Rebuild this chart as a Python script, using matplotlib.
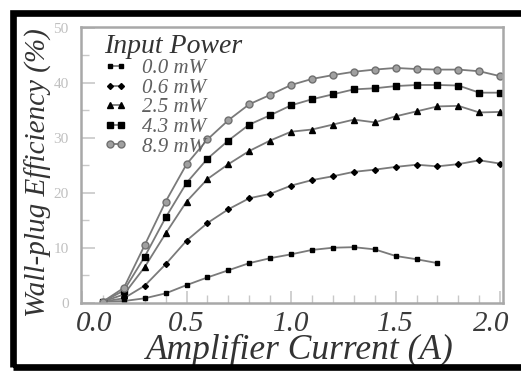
import matplotlib
matplotlib.use("Agg")
import matplotlib.pyplot as plt
from matplotlib.patches import Rectangle
from matplotlib.ticker import MultipleLocator
from matplotlib.transforms import ScaledTranslation, blended_transform_factory

# amplifier current (A)
current = [0.1, 0.2, 0.3, 0.4, 0.5, 0.6, 0.7, 0.8, 0.9, 1.0,
           1.1, 1.2, 1.3, 1.4, 1.5, 1.6, 1.7, 1.8, 1.9, 2.0]

# wall-plug efficiency (%) per input power
eff_00 = [0.2, 0.3, 0.8, 1.7, 3.2, 4.6, 5.9, 7.2, 8.1, 8.8,
          9.6, 10.0, 10.1, 9.7, 8.5, 7.9, 7.2]
eff_06 = [0.2, 0.8, 3.1, 7.0, 11.3, 14.5, 17.0, 19.0, 19.8, 21.3,
          22.3, 23.0, 23.8, 24.2, 24.7, 25.1, 24.8, 25.2, 25.9, 25.3]
eff_25 = [0.2, 1.5, 6.5, 12.6, 18.4, 22.5, 25.2, 27.6, 29.5, 31.1,
          31.5, 32.4, 33.3, 32.8, 33.9, 34.8, 35.7, 35.8, 34.6, 34.7]
eff_43 = [0.2, 2.2, 8.4, 15.5, 21.8, 26.2, 29.5, 32.4, 34.1, 35.9,
          37.0, 37.9, 38.8, 39.0, 39.4, 39.6, 39.6, 39.5, 38.2, 38.2]
eff_89 = [0.2, 2.7, 10.5, 18.4, 25.2, 29.7, 33.2, 36.1, 37.8, 39.6,
          40.7, 41.4, 42.0, 42.4, 42.7, 42.5, 42.4, 42.4, 42.1, 41.2]

labels = ["0.0 mW", "0.6 mW", "2.5 mW", "4.3 mW", "8.9 mW"]
xticks = [0.0, 0.5, 1.0, 1.5, 2.0]
yticks = [0, 10, 20, 30, 40, 50]

SERIF = "Liberation Serif"
LINE = "#7a7a7a"

fig = plt.figure(figsize=(5.21, 3.77), dpi=100)
fig.patch.set_facecolor("white")

# thick black frame around the whole picture
fig.patches.append(Rectangle((13.3 / 521, 10 / 377), (521 - 13.3 + 10) / 521, (364 - 10) / 377,
                             transform=fig.transFigure, fill=False,
                             edgecolor="black", linewidth=4.8, zorder=10))

ax = fig.add_axes([81 / 521, (377 - 302.7) / 377, (502.7 - 81) / 521, (302.7 - 26.7) / 377])

styles = [
    dict(marker="s", ms=3.5, mfc="black", mec="black"),
    dict(marker="D", ms=3.0, mfc="black", mec="black"),
    dict(marker="^", ms=3.8, mfc="black", mec="black"),
    dict(marker="s", ms=4.5, mfc="black", mec="black"),
    dict(marker="o", ms=5.0, mfc="#a0a0a0", mec="#707070", mew=1.0),
]
series = [eff_00, eff_06, eff_25, eff_43, eff_89]
for ys, lab, st in zip(series, labels, styles):
    ax.plot(current[:len(ys)], ys, color=LINE, lw=1.3, label=lab, **st)

ax.set_xlim(-0.005, 2.012)
ax.set_ylim(0, 50.2)

ax.set_xticks(xticks)
ax.set_xticklabels([])
ax.xaxis.set_minor_locator(MultipleLocator(0.1))
ax.set_yticks(yticks)
ax.set_yticklabels([str(v) for v in yticks], fontfamily=SERIF, fontsize=11, color="#c0c0c0")
ax.yaxis.set_minor_locator(MultipleLocator(5))

# x tick labels drawn by hand: the end ones sit a little inside the axis
xshift = {0.0: 12, 2.0: -9}
base = blended_transform_factory(ax.transData, ax.transAxes)
for v in xticks:
    tr = base + ScaledTranslation(xshift.get(v, 0) / 100, 0, fig.dpi_scale_trans)
    ax.text(v, -0.103, f"{v:.1f}", transform=tr, ha="center", va="baseline",
            fontfamily=SERIF, fontstyle="italic", fontsize=21, color="#3a3a3a")

ax.tick_params(axis="x", which="major", direction="in", length=9, width=1.2, color="#c8c8c8", pad=2)
ax.tick_params(axis="x", which="minor", direction="in", length=6, width=1.0, color="#c8c8c8")
ax.tick_params(axis="y", which="major", direction="in", length=10, width=1.2, color="#c8c8c8", pad=9)
ax.tick_params(axis="y", which="minor", direction="in", length=6, width=1.0, color="#c8c8c8")

for s in ax.spines.values():
    s.set_color("#a8a8a8")
    s.set_linewidth(1.8)

ax.set_xlabel("Amplifier Current (A)", fontfamily=SERIF, fontstyle="italic",
              fontsize=25.5, color="#333333")
ax.xaxis.set_label_coords(0.52, -0.112)
ax.set_ylabel("Wall-plug Efficiency (%)", fontfamily=SERIF, fontstyle="italic",
              fontsize=21, color="#333333")
ax.yaxis.set_label_coords(-0.068, 0.47)

leg = ax.legend(loc="upper left", bbox_to_anchor=(0.025, 1.02), frameon=False,
                title="Input Power", alignment="left", numpoints=2,
                handlelength=1.1, handletextpad=0.7, labelspacing=0.0,
                borderaxespad=0.2, prop=dict(family=SERIF, style="italic", size=15))
leg.get_title().set_fontfamily(SERIF)
leg.get_title().set_fontstyle("italic")
leg.get_title().set_fontsize(20)
leg.get_title().set_color("#333333")
for t in leg.get_texts():
    t.set_color("#606060")

fig.savefig("out.png", dpi=100, facecolor="white")
